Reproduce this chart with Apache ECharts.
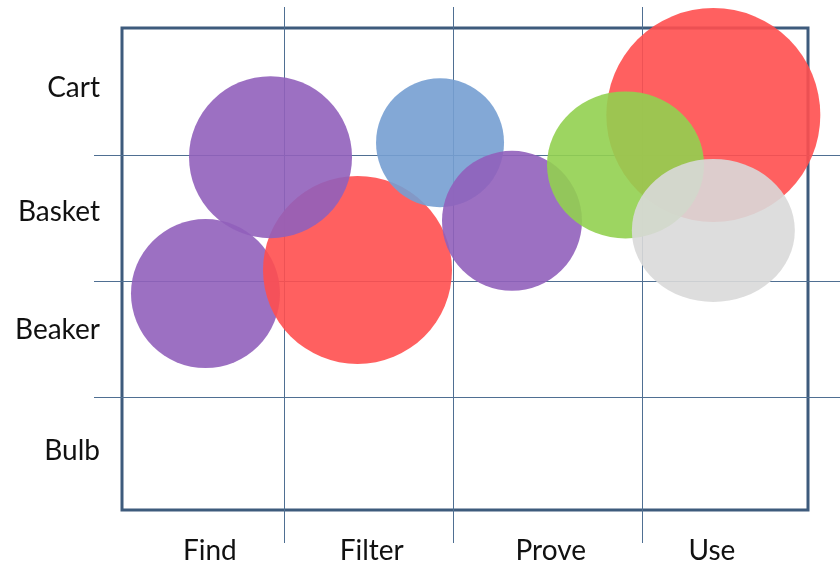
<!DOCTYPE html>
<html>
<head>
<meta charset="utf-8">
<script src="https://cdn.jsdelivr.net/npm/echarts@6/dist/echarts.min.js"></script>
<style>
  html, body { margin: 0; padding: 0; background: #fff; }
  #chart { width: 840px; height: 566px; }
</style>
</head>
<body>
<div id="chart"></div>
<script>
// stages along the bottom, containers up the side (0-100 scale on both axes)
const stages = ["Find", "Filter", "Prove", "Use"];
const stageAt = [12.8, 36.4, 62.5, 86.0];
const stageEdges = [23.6, 48.25, 75.8];

const containers = ["Bulb", "Beaker", "Basket", "Cart"];
const containerAt = [12.2, 37.3, 61.8, 87.6];
const containerEdges = [23.4, 47.5, 73.7];

// bubbles, in draw order
const bubbleX = [12.17, 34.33, 21.65, 46.36, 56.85, 86.2, 73.4, 86.2];
const bubbleY = [44.9, 49.8, 73.2, 76.2, 60.0, 81.95, 71.6, 58.0];
const bubbleW = [149, 189, 163, 128, 140, 214, 157, 163];
const bubbleH = [149, 188, 162, 129, 140, 214, 147, 143];
const bubbleColor = ["#9160bb", "#ff4f4f", "#9160bb", "#769fd2", "#9160bb", "#ff4f4f", "#92d050", "#d9d9d9"];

const lineColor = "#4f6f92";
const boxColor = "#3e5b7c";
const font = "Lato, 'Open Sans', sans-serif";

const chart = echarts.init(document.getElementById("chart"));

const labelAt = (pos, names) => (v) => {
  const i = pos.findIndex((p) => Math.abs(p - v) < 0.01);
  return i < 0 ? "" : names[i];
};

const data = bubbleX.map((x, i) => ({
  value: [x, bubbleY[i], bubbleW[i], bubbleH[i]],
  itemStyle: { color: bubbleColor[i] },
}));

// extra axes only carry the short tick stubs that run past the box
const stub = (edges, len) => ({
  show: true, customValues: edges, length: len,
  lineStyle: { color: lineColor, width: 1 },
});

chart.setOption({
  animation: false,
  grid: {
    left: 122, right: 32, top: 28, bottom: 56,
    show: true, borderColor: boxColor, borderWidth: 3, backgroundColor: "transparent",
  },
  xAxis: [
    {
      type: "value", min: 0, max: 100, position: "bottom",
      axisLine: { show: false, onZero: false },
      axisTick: stub(stageEdges, 33),
      splitLine: { show: true, lineStyle: { color: lineColor, width: 1 } },
      axisLabel: {
        customValues: stageAt, margin: 27, color: "#111",
        fontFamily: font, fontSize: 28, formatter: labelAt(stageAt, stages),
      },
    },
    {
      type: "value", min: 0, max: 100, position: "top",
      axisLine: { show: false, onZero: false },
      axisTick: stub(stageEdges, 21),
      splitLine: { show: false },
      axisLabel: { show: false },
    },
  ],
  yAxis: [
    {
      type: "value", min: 0, max: 100, position: "left",
      axisLine: { show: false, onZero: false },
      axisTick: stub(containerEdges, 28),
      splitLine: { show: true, lineStyle: { color: lineColor, width: 1 } },
      axisLabel: {
        customValues: containerAt, margin: 22, color: "#111",
        fontFamily: font, fontSize: 28, formatter: labelAt(containerAt, containers),
      },
    },
    {
      type: "value", min: 0, max: 100, position: "right",
      axisLine: { show: false, onZero: false },
      axisTick: stub(containerEdges, 32),
      splitLine: { show: false },
      axisLabel: { show: false },
    },
  ],
  series: [
    {
      type: "scatter",
      clip: false,
      symbol: "circle",
      symbolSize: (v) => [v[2], v[3]],
      itemStyle: { opacity: 0.9 },
      emphasis: { disabled: true },
      data: data,
    },
  ],
});
</script>
</body>
</html>
